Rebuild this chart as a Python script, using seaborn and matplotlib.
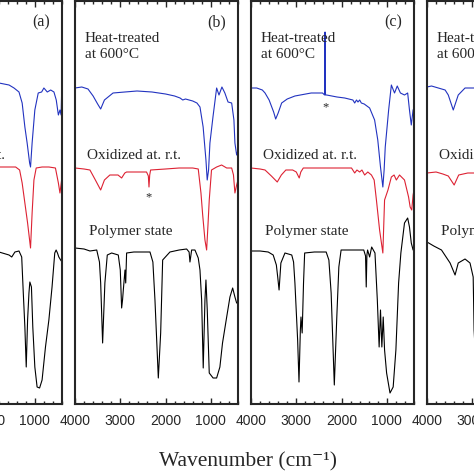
import matplotlib
matplotlib.use("Agg")
import matplotlib.pyplot as plt
import seaborn as sns
import pandas as pd

# IR spectra: (wavenumber cm-1, offset depth from top of panel)
a_heat = [(1900, 83), (1792, 83), (1570, 85), (1460, 88), (1350, 92), (1280, 103), (1220, 127),
          (1170, 143), (1115, 163), (1095, 167), (1060, 143), (1000, 110), (925, 93), (850, 92),
          (800, 88), (725, 92), (650, 90), (578, 92), (527, 100), (480, 115), (445, 110), (420, 115), (400, 78)]
a_oxid = [(1900, 167), (1792, 167), (1424, 167), (1336, 170), (1280, 183), (1220, 203), (1160, 223),
          (1095, 248), (1060, 213), (1020, 180), (970, 168), (840, 167), (690, 167), (545, 168),
          (480, 183), (445, 193), (400, 177)]
a_poly = [(1900, 252), (1792, 252), (1570, 255), (1510, 257), (1440, 252), (1350, 251), (1290, 257),
          (1255, 293), (1220, 327), (1190, 367), (1160, 320), (1130, 293), (1110, 282), (1075, 287),
          (1045, 327), (1000, 367), (950, 387), (895, 388), (840, 380), (765, 347), (690, 320),
          (620, 287), (560, 253), (530, 250), (500, 253), (470, 257), (430, 260), (400, 262)]

b_heat = [(4000, 88), (3850, 87), (3713, 89), (3600, 96), (3500, 104), (3433, 109), (3350, 100),
          (3160, 93), (2900, 92), (2630, 91), (2300, 92), (2000, 94), (1800, 96), (1680, 98),
          (1620, 100), (1560, 99), (1400, 101), (1307, 103), (1240, 107), (1170, 127), (1108, 160),
          (1080, 180), (1050, 170), (1020, 143), (953, 117), (872, 88), (820, 95), (755, 87),
          (690, 93), (620, 102), (540, 103), (490, 120), (468, 143), (430, 155), (400, 150)]
b_oxid = [(4000, 168), (3800, 169), (3670, 170), (3550, 180), (3433, 190), (3350, 180), (3230, 175),
          (3050, 175), (2970, 178), (2900, 173), (2860, 172), (2600, 172), (2420, 172), (2380, 176),
          (2366, 187), (2350, 175), (2330, 170), (2000, 169), (1700, 168), (1400, 168), (1278, 169),
          (1218, 193), (1180, 215), (1130, 240), (1093, 250), (1063, 225), (1035, 200), (985, 170),
          (872, 167), (762, 165), (650, 168), (540, 168), (500, 175), (468, 193), (430, 185), (400, 180)]
b_poly = [(4000, 248), (3800, 249), (3670, 251), (3520, 250), (3460, 262), (3433, 283), (3390, 343),
          (3340, 283), (3287, 255), (3190, 253), (3044, 255), (3000, 270), (2970, 308), (2950, 300),
          (2933, 290), (2896, 270), (2880, 283), (2860, 253), (2700, 252), (2344, 252), (2280, 262),
          (2234, 300), (2160, 378), (2108, 333), (2064, 260), (1903, 252), (1700, 250), (1535, 249),
          (1480, 252), (1461, 262), (1424, 250), (1351, 250), (1278, 258), (1240, 270), (1203, 300),
          (1168, 368), (1130, 300), (1108, 280), (1079, 310), (1035, 373), (950, 378), (872, 378),
          (800, 367), (742, 343), (650, 317), (578, 297), (518, 288), (468, 297), (430, 303), (400, 303)]

c_heat = [(4000, 88), (3874, 88), (3750, 90), (3690, 93), (3600, 100), (3500, 112), (3455, 119),
          (3400, 113), (3323, 103), (3200, 99), (3030, 96), (2670, 93), (2420, 93), (2375, 95),
          (2365, 32), (2355, 95), (2330, 95), (2100, 97), (1930, 98), (1750, 100), (1710, 103),
          (1670, 100), (1637, 102), (1600, 100), (1563, 103), (1500, 104), (1380, 108), (1270, 120),
          (1200, 140), (1140, 167), (1088, 187), (1060, 170), (1035, 147), (960, 110), (900, 85),
          (830, 93), (770, 86), (700, 93), (610, 95), (540, 93), (500, 110), (460, 125), (420, 110), (400, 108)]
c_oxid = [(4000, 168), (3800, 169), (3690, 170), (3550, 176), (3420, 182), (3330, 175), (3230, 170),
          (3080, 170), (3000, 172), (2935, 178), (2900, 172), (2845, 168), (2500, 168), (2000, 168),
          (1780, 168), (1710, 173), (1660, 170), (1600, 172), (1550, 170), (1490, 175), (1420, 172),
          (1340, 175), (1280, 180), (1230, 200), (1160, 230), (1088, 253), (1050, 200), (975, 190),
          (900, 177), (840, 175), (790, 180), (720, 175), (610, 180), (520, 197), (485, 207),
          (450, 210), (420, 195), (400, 190)]
c_poly = [(4000, 251), (3800, 251), (3620, 252), (3510, 255), (3440, 265), (3410, 277), (3380, 290),
          (3340, 263), (3250, 253), (3100, 255), (3060, 262), (3030, 283), (2970, 340), (2940, 382),
          (2910, 330), (2896, 317), (2870, 333), (2840, 283), (2815, 253), (2600, 252), (2340, 252),
          (2280, 260), (2230, 293), (2160, 385), (2105, 317), (2060, 267), (2010, 250), (1800, 250),
          (1510, 250), (1470, 256), (1455, 287), (1440, 255), (1425, 250), (1380, 257), (1335, 247),
          (1262, 253), (1210, 300), (1170, 347), (1140, 310), (1110, 347), (1080, 317), (1050, 350),
          (1005, 373), (930, 393), (860, 387), (800, 350), (740, 283), (690, 253), (610, 223),
          (540, 218), (500, 227), (460, 243), (420, 250), (400, 250)]

d_heat = [(4000, 87), (3900, 86), (3750, 88), (3600, 90), (3530, 95), (3420, 110), (3310, 95),
          (3160, 88), (2900, 88)]
d_oxid = [(4000, 173), (3800, 172), (3650, 174), (3530, 176), (3400, 185), (3300, 175), (3100, 173),
          (2900, 173)]
d_poly = [(4000, 242), (3850, 246), (3680, 250), (3490, 263), (3380, 275), (3310, 263), (3160, 259),
          (3050, 263), (2980, 277), (2960, 330), (2900, 380)]

panel_labels = ['(a)', '(b)', '(c)', '(d)']
trace_labels = ['Heat-treated\nat 600°C', 'Oxidized at. r.t.', 'Polymer state']
major_ticks = [4000, 3000, 2000, 1000]

sns.set_style("ticks")
plt.rcParams['font.family'] = ['Liberation Serif', 'DejaVu Serif']

W = H = 474.0
fig = plt.figure(figsize=(4.74, 4.74), dpi=100)

panels = [(-101, a_heat, a_oxid, a_poly),
          (75, b_heat, b_oxid, b_poly),
          (251, c_heat, c_oxid, c_poly),
          (427, d_heat, d_oxid, d_poly)]

axes = []
for i, (left, heat, oxid, poly) in enumerate(panels):
    ax = fig.add_axes([left / W, 1 - 404 / H, 163 / W, 403 / H])
    axes.append(ax)
    for trace, col in [(heat, '#2233c0'), (oxid, '#dd2233'), (poly, 'black')]:
        df = pd.DataFrame(trace, columns=['wavenumber', 'depth'])
        sns.lineplot(data=df, x='wavenumber', y='depth', ax=ax, color=col,
                     linewidth=0.8, estimator=None, sort=False)
    ax.set_xlim(4000, 400)
    ax.set_ylim(404, 1)
    ax.set_xticks(major_ticks)
    ax.set_xticks(range(4000, 399, -200), minor=True)
    ax.set_yticks([])
    ax.set_xlabel('')
    ax.set_ylabel('')
    ax.tick_params(axis='x', which='both', direction='in', top=True, bottom=True, width=1)
    ax.tick_params(axis='x', which='major', length=4.5, pad=7, labelsize=10)
    ax.tick_params(axis='x', which='minor', length=2.5)
    for lab in ax.get_xticklabels():
        lab.set_fontfamily('Liberation Sans')
    for sp in ax.spines.values():
        sp.set_linewidth(1.5)
    ax.text(870, 22, panel_labels[i], fontsize=11.5, ha='center', va='center')
    ax.text(3735, 155, trace_labels[1], fontsize=11, ha='left', va='center')
    if i > 0:
        # in panel (a) only the tail of the middle label lies inside the picture
        ax.text(3780, 46, trace_labels[0], fontsize=11, ha='left', va='center', linespacing=1.3)
        ax.text(3690, 231, trace_labels[2], fontsize=11, ha='left', va='center')

# impurity markers
axes[1].text(2366, 197, '*', fontsize=9, ha='center', va='center')
axes[2].text(2365, 107, '*', fontsize=9, ha='center', va='center')

fig.text(248 / W, 1 - 462 / H, 'Wavenumber (cm\u207b\u00b9)', fontsize=15.5, ha='center', va='center',
         family=['Liberation Serif', 'DejaVu Serif'])

fig.savefig('out.png', dpi=100)
